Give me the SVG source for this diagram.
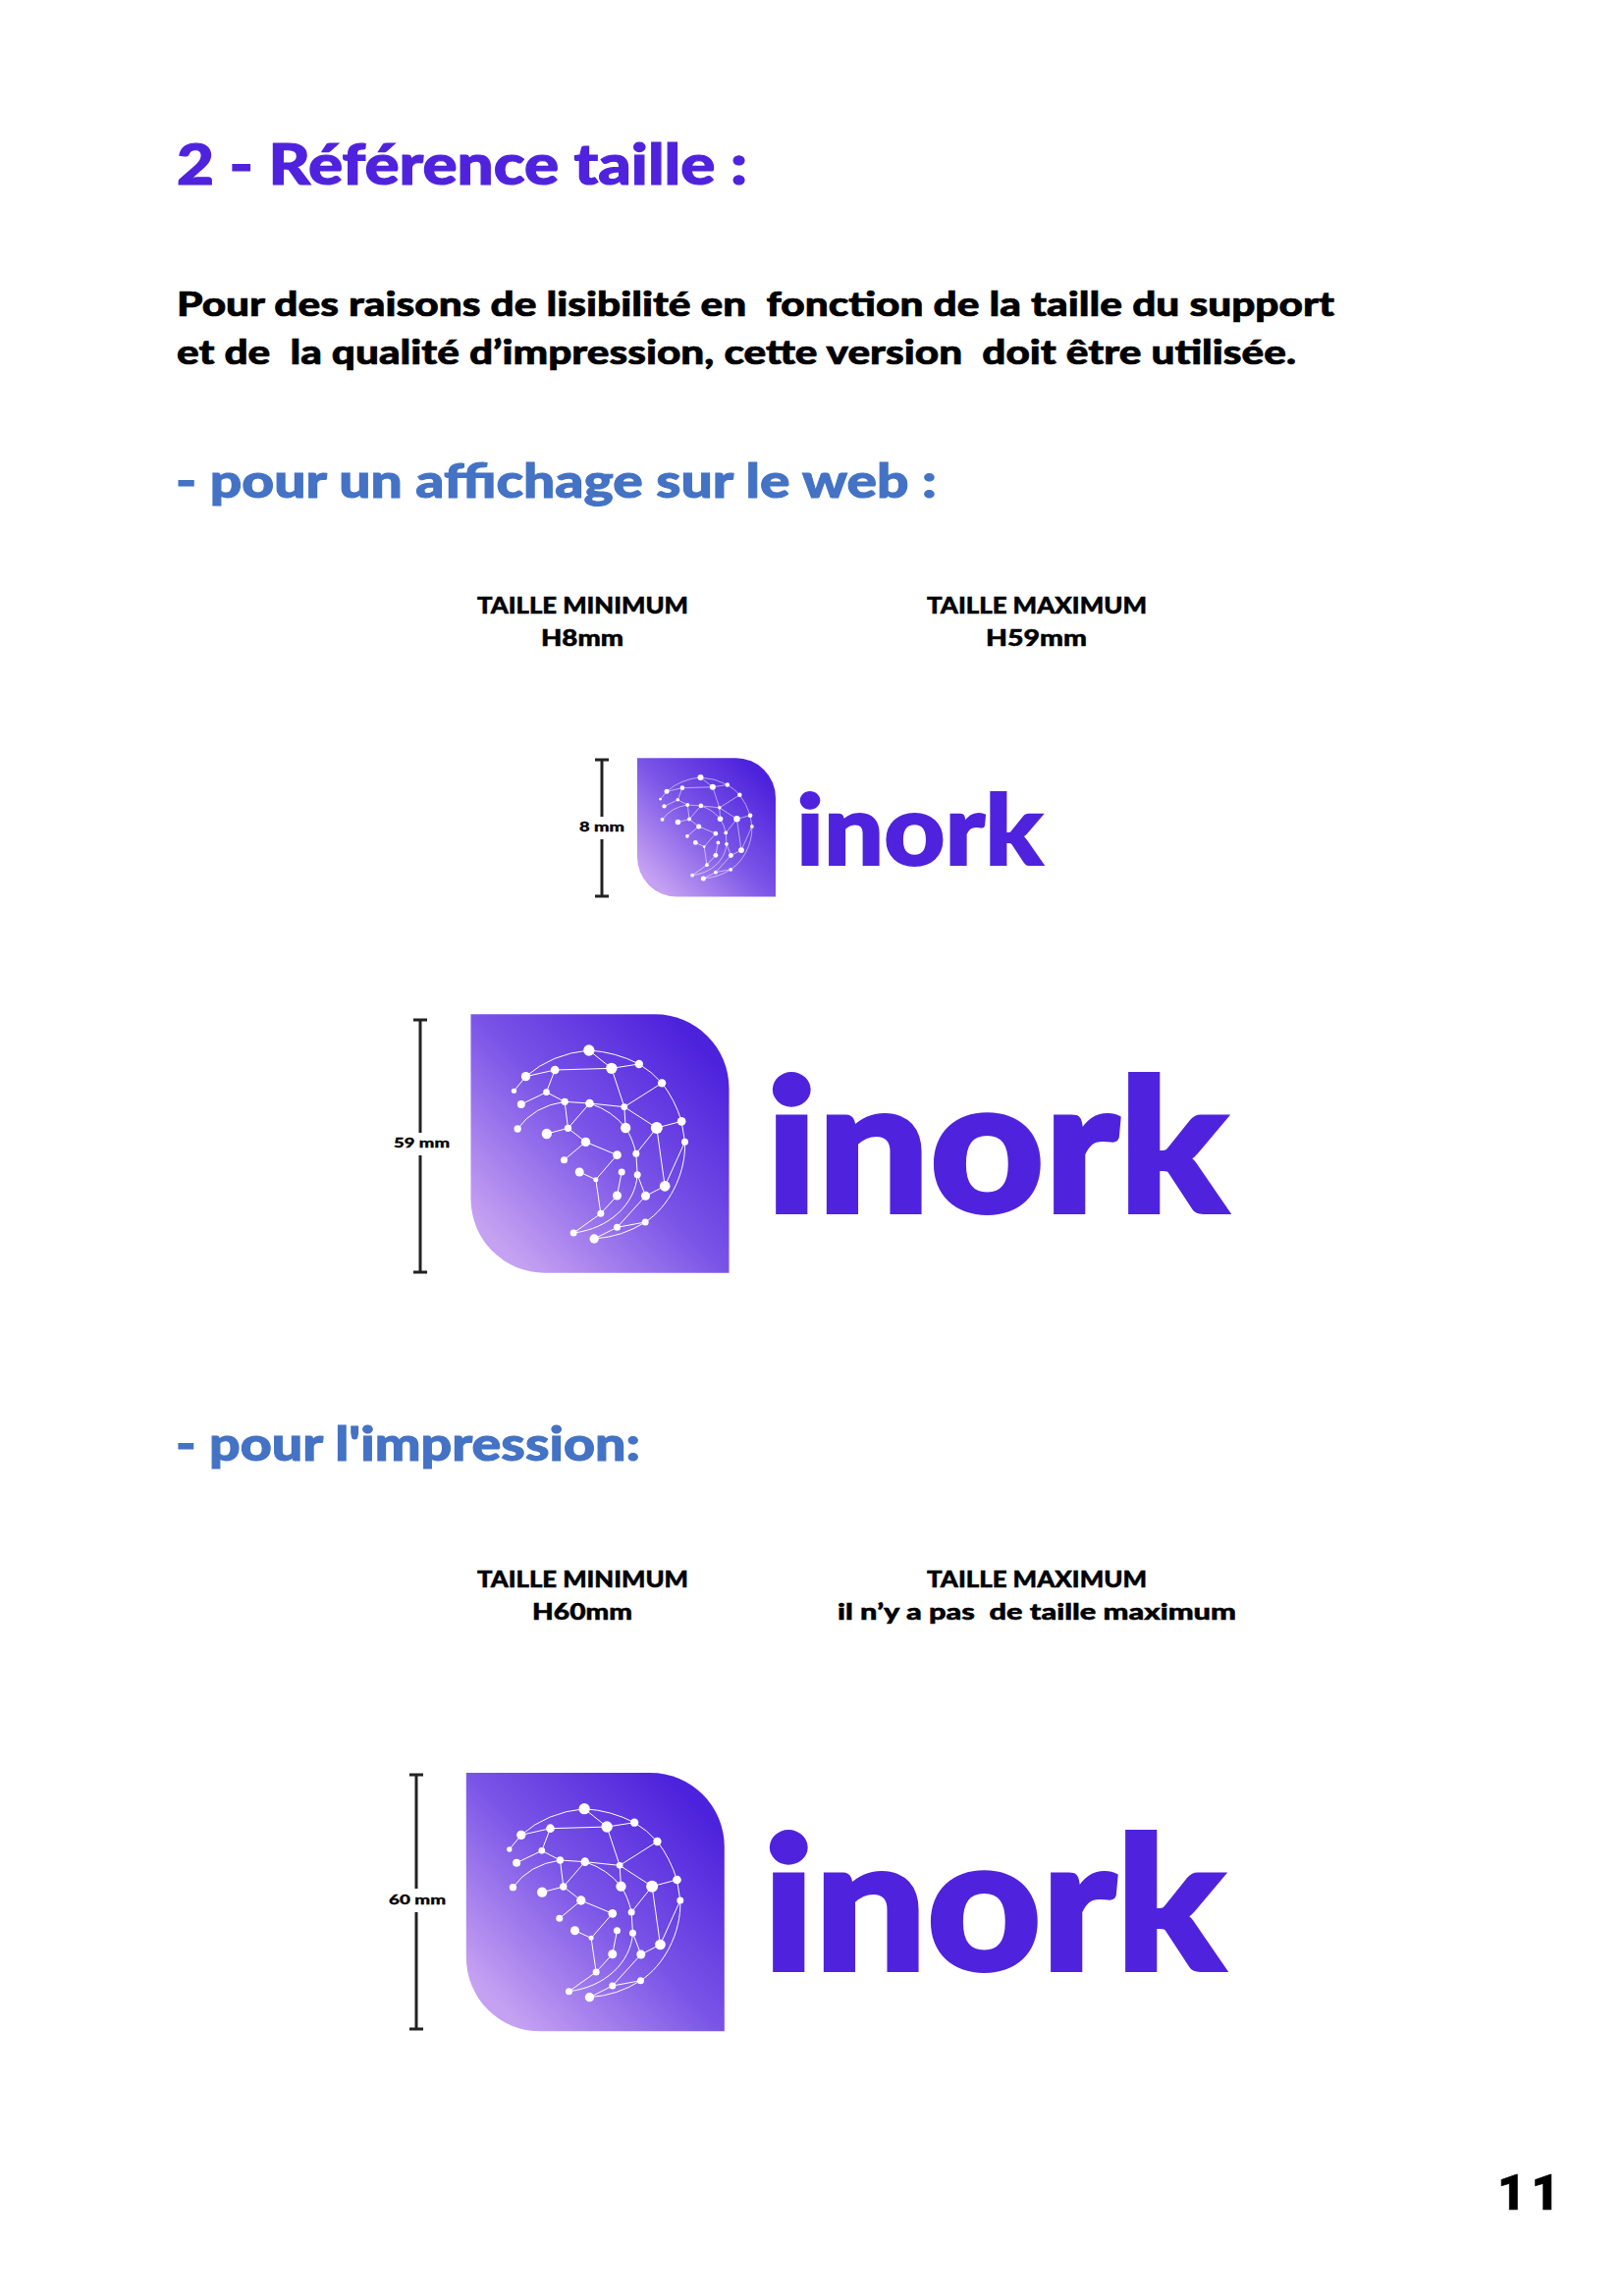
<svg xmlns="http://www.w3.org/2000/svg" width="1654" height="2339" viewBox="0 0 1654 2339">
<style>
text{font-family:"Lato","Liberation Sans",sans-serif;font-weight:900;white-space:pre}
.title{font-size:58px;fill:#4f23dd;stroke:#4f23dd;stroke-width:1.2px}
.body{font-size:35px;fill:#000;stroke:#000;stroke-width:.7px}
.sub{font-size:48px;fill:#4472c4;stroke:#4472c4;stroke-width:1px}
.lab{font-size:23px;fill:#000;stroke:#000;stroke-width:.5px}
.dim{font-size:14px;fill:#000;stroke:#000;stroke-width:.3px}
.word{fill:#4f23dd;stroke:#4f23dd}
.page{font-family:"Roboto",sans-serif;font-size:50px;letter-spacing:5.500px;fill:#000;stroke:#000;stroke-width:.6px}
.net path{fill:none;stroke:#fff;stroke-width:3}
.dots circle{fill:#fff}
.rule path{fill:none;stroke:#222;stroke-width:3}
</style>
<defs>
<linearGradient id="g" gradientUnits="userSpaceOnUse" x1="110" y1="770" x2="790" y2="100">
<stop offset="0.05" stop-color="#c5a1f2"/><stop offset="0.5" stop-color="#7a54e7"/><stop offset="0.95" stop-color="#4d22dc"/>
</linearGradient>
<g id="mark">
<path d="M57,40H620A226,226 0 0 1 846,266V830H283A226,226 0 0 1 57,604Z" fill="url(#g)"/>
<g class="net">
<path d="M225,230Q305,160 418,150M418,150Q500,155 571,192Q610,215 641,250Q680,300 701,367L711,430M711,430C715,530 660,630 590,675Q520,720 434,726M200,390Q250,320 344,307M420,312Q490,335 530,387Q552,420 562,466L566,530C560,620 480,695 371,708"/>
<path d="M418,150L487,205L571,192M314,210L487,205M225,230L314,210L288,278L211,315M225,230L189,274M288,278L344,307L420,312L526,323L487,205M526,323L641,250M526,323L530,387M526,323L625,387L701,367M344,307L354,388L420,312M289,405L354,388L408,430L342,485M408,430L504,470L439,545L389,522M439,545L454,649L504,594L518,522M625,387L562,466M625,387L650,565L711,430M650,565L591,595L566,530M591,595L504,691L434,726M504,691L590,675M454,649L371,708"/>
</g>
<g class="dots">
<circle cx="418" cy="150" r="17"/><circle cx="487" cy="205" r="17"/><circle cx="571" cy="192" r="12.500"/><circle cx="641" cy="250" r="12.500"/><circle cx="314" cy="210" r="13"/><circle cx="225" cy="230" r="14"/><circle cx="189" cy="274" r="8"/><circle cx="288" cy="278" r="10"/><circle cx="211" cy="315" r="12"/><circle cx="344" cy="307" r="11"/><circle cx="420" cy="312" r="13"/><circle cx="526" cy="323" r="10"/><circle cx="701" cy="367" r="13"/><circle cx="625" cy="387" r="18"/><circle cx="530" cy="387" r="15.500"/><circle cx="200" cy="390" r="11"/><circle cx="289" cy="405" r="15.500"/><circle cx="354" cy="388" r="11"/><circle cx="408" cy="430" r="14"/><circle cx="711" cy="430" r="10.500"/><circle cx="562" cy="466" r="10.500"/><circle cx="504" cy="470" r="13"/><circle cx="342" cy="485" r="10.500"/><circle cx="389" cy="522" r="13.500"/><circle cx="518" cy="522" r="10.500"/><circle cx="566" cy="530" r="10.500"/><circle cx="439" cy="545" r="7.500"/><circle cx="650" cy="565" r="16"/><circle cx="504" cy="594" r="13.500"/><circle cx="591" cy="595" r="13.500"/><circle cx="454" cy="649" r="10.500"/><circle cx="590" cy="675" r="10.500"/><circle cx="504" cy="691" r="10.500"/><circle cx="371" cy="708" r="10.500"/><circle cx="434" cy="726" r="14"/>
</g>
</g>
</defs>
<rect width="1654" height="2339" fill="#fff"/>
<g id="heading">
<text class="title" x="180" y="188" textLength="581" lengthAdjust="spacingAndGlyphs">2 - Référence taille :</text>
<text class="body" x="180" y="322" textLength="1179" lengthAdjust="spacingAndGlyphs">Pour des raisons de lisibilité en  fonction de la taille du support</text>
<text class="body" x="180" y="371" textLength="1140" lengthAdjust="spacingAndGlyphs">et de  la qualité d’impression, cette version  doit être utilisée.</text>
<text class="sub" x="179" y="507" textLength="775" lengthAdjust="spacingAndGlyphs">- pour un affichage sur le web :</text>
<text class="sub" x="179" y="1488" textLength="473" lengthAdjust="spacingAndGlyphs">- pour l'impression:</text>
</g>
<g id="labels-web">
<text class="lab" x="486" y="625" textLength="215" lengthAdjust="spacingAndGlyphs">TAILLE MINIMUM</text>
<text class="lab" x="551" y="658" textLength="84" lengthAdjust="spacingAndGlyphs">H8mm</text>
<text class="lab" x="944" y="625" textLength="224" lengthAdjust="spacingAndGlyphs">TAILLE MAXIMUM</text>
<text class="lab" x="1004" y="658" textLength="103" lengthAdjust="spacingAndGlyphs">H59mm</text>
</g>
<g id="labels-print">
<text class="lab" x="486" y="1617" textLength="215" lengthAdjust="spacingAndGlyphs">TAILLE MINIMUM</text>
<text class="lab" x="542" y="1650" textLength="102" lengthAdjust="spacingAndGlyphs">H60mm</text>
<text class="lab" x="944" y="1617" textLength="224" lengthAdjust="spacingAndGlyphs">TAILLE MAXIMUM</text>
<text class="lab" x="853" y="1650" textLength="406" lengthAdjust="spacingAndGlyphs">il n’y a pas  de taille maximum</text>
</g>
<g id="logo-web-min">
<use href="#mark" transform="translate(638.8,765.15) scale(.1787)"/>
<text class="word" x="811" y="881" font-size="100" stroke-width="2" textLength="251" lengthAdjust="spacingAndGlyphs">inork</text>
</g>
<g id="logo-web-max">
<use href="#mark" transform="translate(460.5,1020) scale(.33333)"/>
<text class="word" x="780" y="1235" font-size="188" stroke-width="4" textLength="470" lengthAdjust="spacingAndGlyphs">inork</text>
</g>
<g id="logo-print">
<use href="#mark" transform="translate(455.8,1792.7) scale(.33333)"/>
<text class="word" x="777" y="2007" font-size="188" stroke-width="4" textLength="470" lengthAdjust="spacingAndGlyphs">inork</text>
</g>
<g id="dimensions" class="rule">
<path d="M606,774H620M613,774V832M613,855V913M606,913H620"/>
<path d="M421,1039H435M428,1039V1154M428,1177V1296M421,1296H435"/>
<path d="M417,1808H431M424,1808V1924M424,1948V2067M417,2067H431"/>
</g>
<g id="dimension-labels">
<text class="dim" x="590" y="847" textLength="46" lengthAdjust="spacingAndGlyphs">8 mm</text>
<text class="dim" x="401" y="1169" textLength="57" lengthAdjust="spacingAndGlyphs">59 mm</text>
<text class="dim" x="396" y="1940" textLength="58" lengthAdjust="spacingAndGlyphs">60 mm</text>
</g>
<text id="page" class="page" x="1525" y="2251">11</text>
</svg>
